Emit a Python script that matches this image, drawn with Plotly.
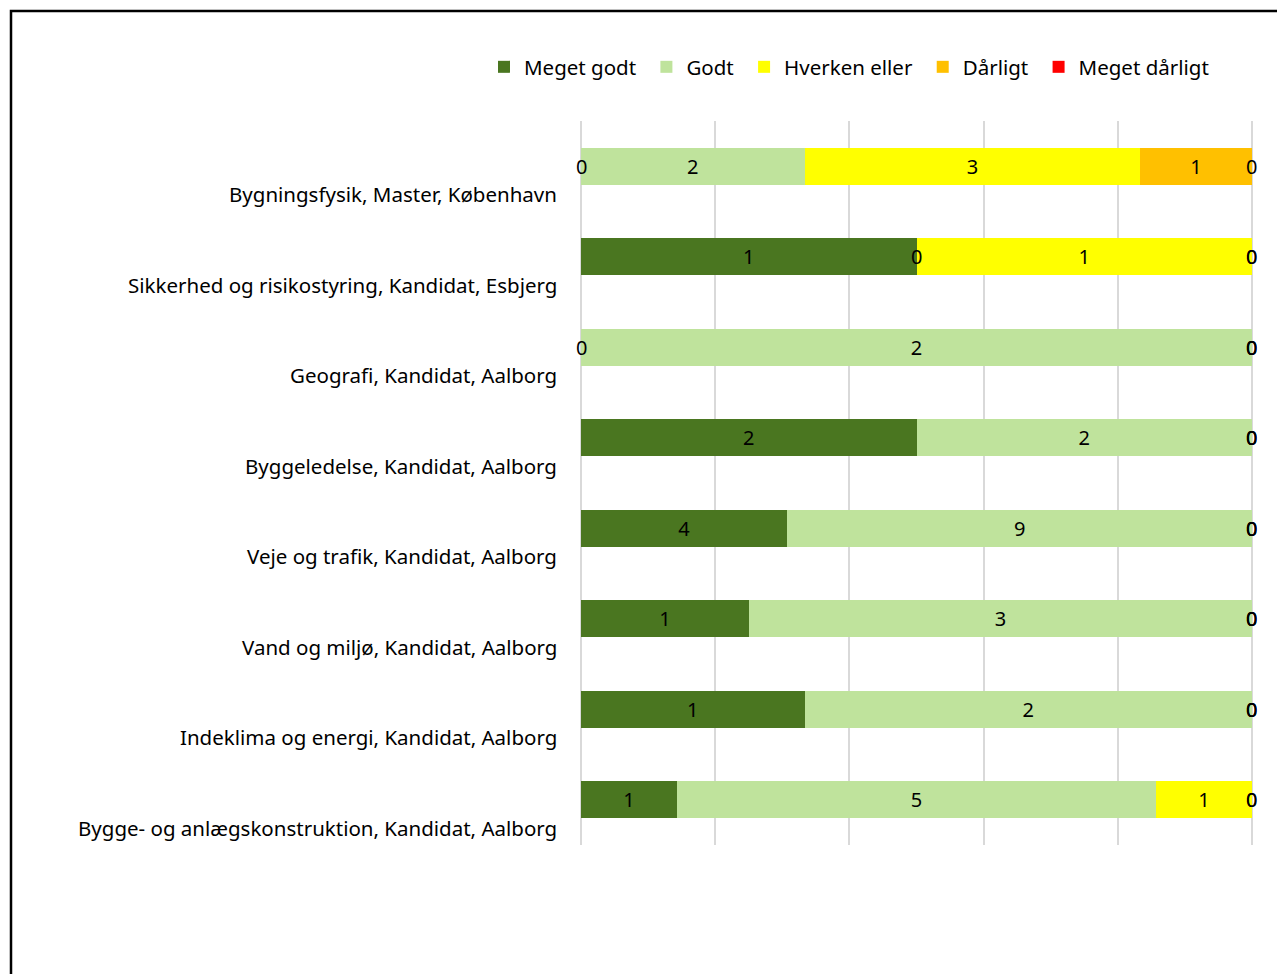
import plotly.graph_objects as go

categories = [
    "Bygningsfysik, Master, København",
    "Sikkerhed og risikostyring, Kandidat, Esbjerg",
    "Geografi, Kandidat, Aalborg",
    "Byggeledelse, Kandidat, Aalborg",
    "Veje og trafik, Kandidat, Aalborg",
    "Vand og miljø, Kandidat, Aalborg",
    "Indeklima og energi, Kandidat, Aalborg",
    "Bygge- og anlægskonstruktion, Kandidat, Aalborg",
]
series_names = ["Meget godt", "Godt", "Hverken eller", "Dårligt", "Meget dårligt"]
meget_godt = [0, 1, 0, 2, 4, 1, 1, 1]
godt = [2, 0, 2, 2, 9, 3, 2, 5]
hverken = [3, 1, 0, 0, 0, 0, 0, 1]
daarligt = [1, 0, 0, 0, 0, 0, 0, 0]
meget_daarligt = [0, 0, 0, 0, 0, 0, 0, 0]
colors = ["#4a7620", "#bfe39c", "#ffff00", "#ffc000", "#ff0000"]

series = [meget_godt, godt, hverken, daarligt, meget_daarligt]
FONT = "Noto Sans"

# figure geometry (page has 8px body margin)
W, H = 1277, 966
L, T, R, B = 572, 113, 32, 129
PW, PH = W - L - R, H - T - B

fig = go.Figure()
for name, vals, col in zip(series_names, series, colors):
    fig.add_trace(go.Bar(
        y=categories, x=vals, name=name + "\u00a0", orientation="h",
        marker=dict(color=col, line=dict(width=0)),
        text=[str(v) if v != 0 else "" for v in vals],
        textposition="inside", insidetextanchor="middle",
        textfont=dict(family=FONT, size=20, color="black"),
        hoverinfo="skip",
    ))

annotations = []
for i, cat in enumerate(categories):
    total = sum(s[i] for s in series)
    cum = 0
    for s in series:
        v = s[i]
        if v == 0:
            annotations.append(dict(
                x=100 * cum / total, y=cat, xref="x", yref="y", text="0",
                showarrow=False, xanchor="center", yanchor="middle",
                font=dict(family=FONT, size=20, color="black"),
            ))
        cum += v
    annotations.append(dict(
        x=0, y=cat, xref="paper", yref="y", text=cat, showarrow=False,
        xanchor="right", yanchor="middle", xshift=-21, yshift=-28,
        font=dict(family=FONT, size=20.5, color="black"),
    ))

fig.update_layout(
    width=W, height=H,
    margin=dict(l=L, r=R, t=T, b=B),
    barmode="stack", barnorm="percent", bargap=0.59,
    plot_bgcolor="white", paper_bgcolor="white",
    font=dict(family=FONT, size=20, color="black"),
    showlegend=True,
    legend=dict(orientation="h", x=(476 - L) / PW, xanchor="left",
                y=1 + (T - 59) / PH, yanchor="middle",
                font=dict(family=FONT, size=20.5, color="black"),
                itemwidth=30, traceorder="normal"),
    xaxis=dict(range=[-0.15, 100.15], dtick=20, showticklabels=False, showgrid=True,
               gridcolor="#d9d9d9", gridwidth=1.5, zeroline=False, showline=False,
               ticks=""),
    yaxis=dict(autorange="reversed", showticklabels=False, showgrid=False,
               zeroline=False, showline=False, ticks=""),
    annotations=annotations,
    shapes=[dict(type="rect", xref="paper", yref="paper",
                 x0=(3 - L) / PW, x1=1.2, y0=-0.5, y1=1 + (T - 3) / PH,
                 line=dict(color="black", width=2.5), fillcolor="rgba(0,0,0,0)",
                 layer="below")],
)

fig.write_html("out.html")
